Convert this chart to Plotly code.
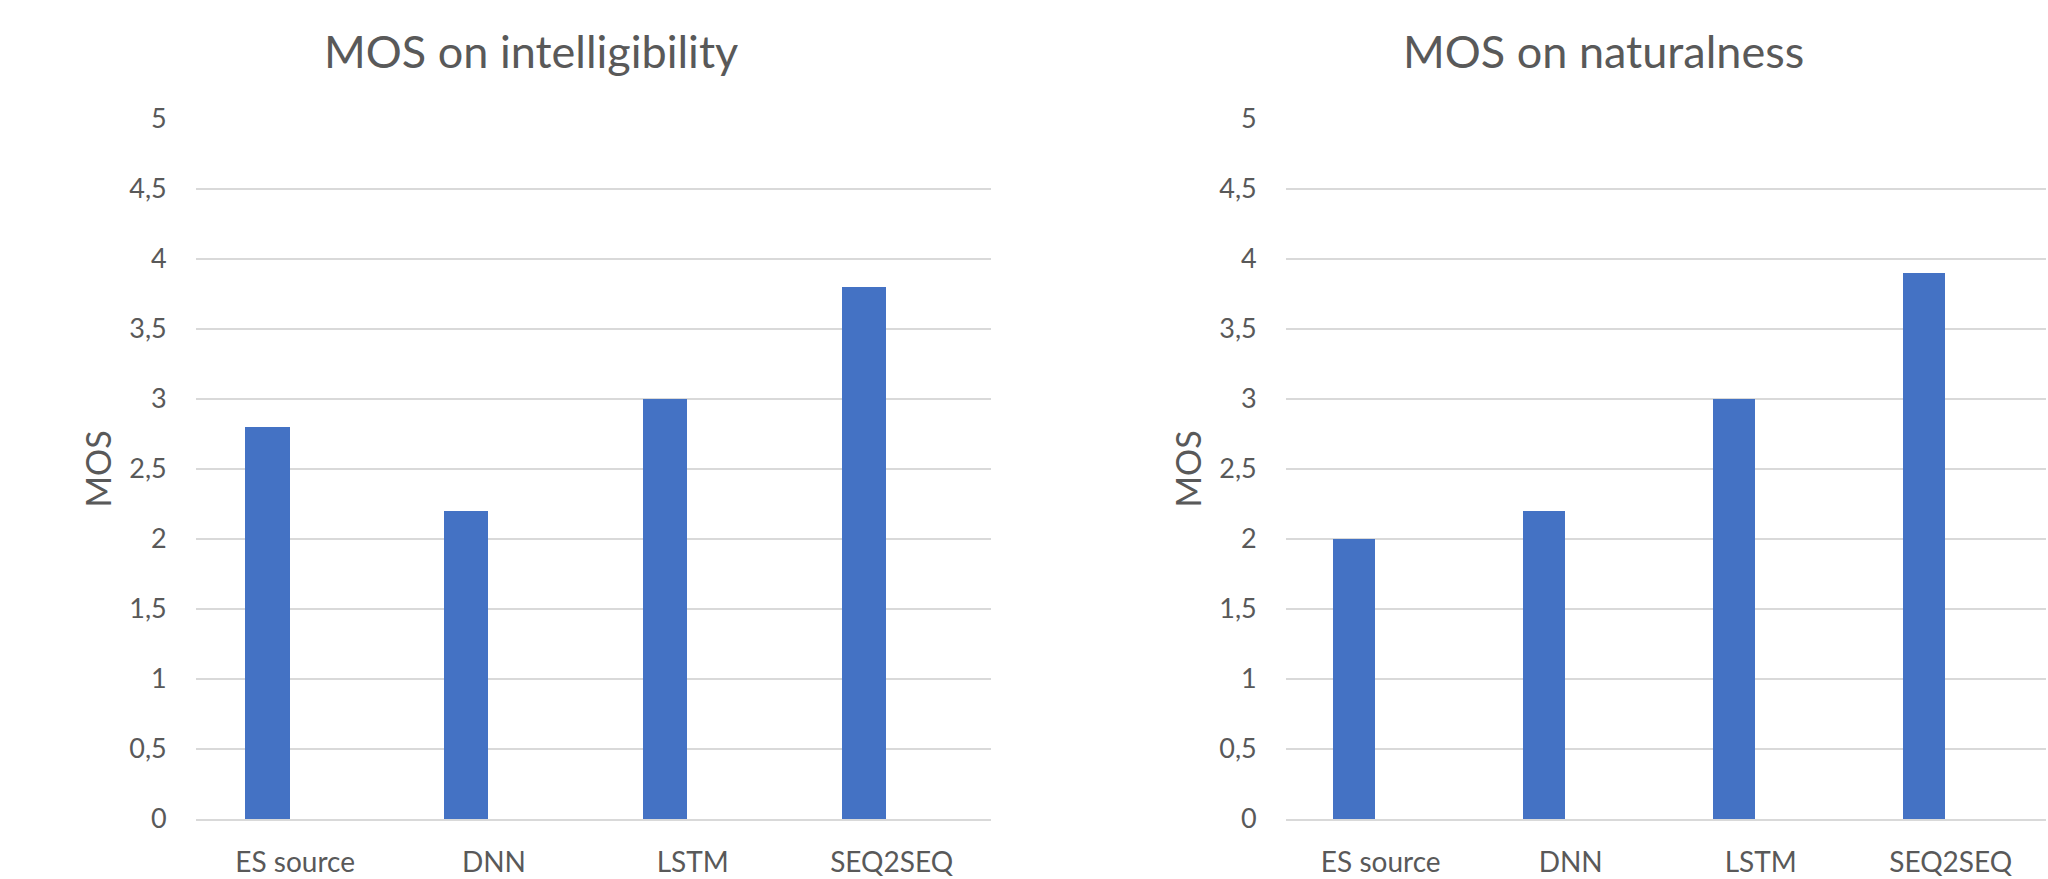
import plotly.graph_objects as go

# Mean opinion scores per system
categories = ["ES source", "DNN", "LSTM", "SEQ2SEQ"]
mos_intelligibility = [2.8, 2.2, 3.0, 3.8]
mos_naturalness = [2.0, 2.2, 3.0, 3.9]

titles = ["MOS on intelligibility", "MOS on naturalness"]
y_title = "MOS"
y_tickvals = [0, 0.5, 1, 1.5, 2, 2.5, 3, 3.5, 4, 4.5, 5]
y_ticktext = ["0", "0,5", "1", "1,5", "2", "2,5", "3", "3,5", "4", "4,5", "5"]

W, H = 2048, 879
FONT = "Lato"
TEXT = "#595959"
GRID = "#d9d9d9"
BAR = "#4472C4"

fig = go.Figure()

for i, vals in enumerate([mos_intelligibility, mos_naturalness]):
    suffix = "" if i == 0 else "2"
    fig.add_trace(go.Bar(
        x=categories, y=vals,
        xaxis="x" + suffix, yaxis="y" + suffix,
        marker=dict(color=BAR, line=dict(width=0)),
        width=0.223, offset=-0.252,
        showlegend=False,
    ))

x_domains = [[195.7 / W, 991.0 / W], [1285.7 / W, 2045.7 / W]]
y_domain = [(H - 819.0) / H, (H - 118.7) / H]

for i in range(2):
    suffix = "" if i == 0 else "2"
    fig.update_layout(**{
        "xaxis" + suffix: dict(
            domain=x_domains[i], anchor="y" + suffix,
            range=[-0.5, 3.5], type="category", automargin=False,
            showgrid=False, zeroline=False,
            showline=True, linecolor=GRID, linewidth=1.5,
            ticks="", ticklabelstandoff=18,
            tickfont=dict(family=FONT, size=28, color=TEXT),
        ),
        "yaxis" + suffix: dict(
            domain=y_domain, anchor="x" + suffix,
            range=[0, 5], tickvals=y_tickvals, ticktext=y_ticktext,
            automargin=False,
            showgrid=True, gridcolor=GRID, gridwidth=1.5,
            zeroline=False, showline=False, ticks="",
            ticklabelstandoff=28,
            tickfont=dict(family=FONT, size=27, color=TEXT),
            title=dict(text=y_title, standoff=7,
                       font=dict(family=FONT, size=34, color=TEXT)),
        ),
    })

title_x = [531 / W, 1603 / W]
for i in range(2):
    fig.add_annotation(
        text=titles[i], x=title_x[i], y=(H - 51) / H,
        xref="paper", yref="paper", xanchor="center", yanchor="middle",
        showarrow=False, font=dict(family=FONT, size=45, color=TEXT),
    )

fig.update_layout(
    width=W, height=H,
    margin=dict(l=0, r=0, t=0, b=0),
    paper_bgcolor="white", plot_bgcolor="white",
    bargap=0, barmode="overlay",
)

fig.write_html("out.html")
